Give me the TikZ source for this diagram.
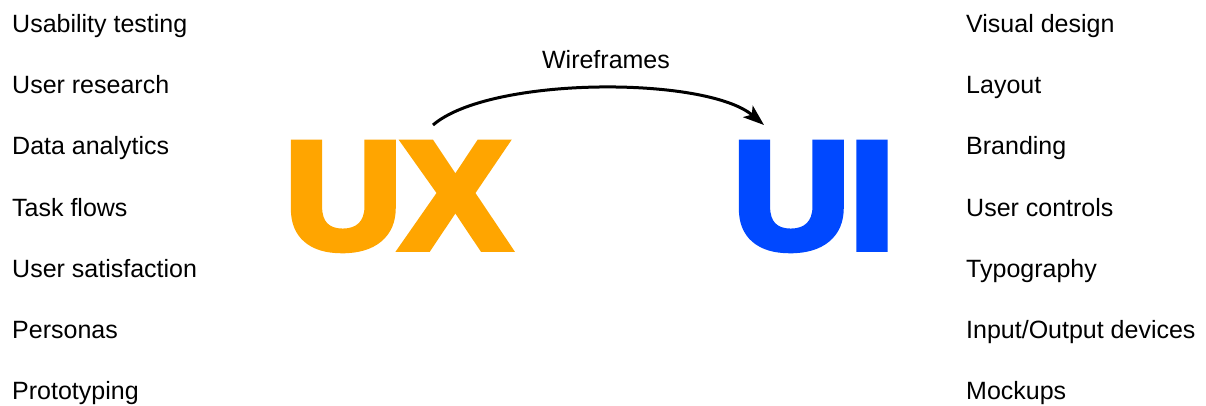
\documentclass[tikz,border=0pt]{standalone}
\usepackage{fontspec}
\setmainfont{Liberation Sans}
\newfontfamily\heavyface[FakeBold=5]{Liberation Sans Bold}
\usetikzlibrary{arrows.meta}
\definecolor{uxorange}{HTML}{FFA500}
\definecolor{uiblue}{HTML}{0048FF}
\tikzset{
  item/.style={anchor=base west, inner sep=0pt, font=\fontsize{25}{30}\selectfont},
  bigword/.style={anchor=base west, inner sep=0pt, xscale=1.06, transform shape,
    font=\heavyface\fontsize{152}{152}\selectfont},
  flow/.style={line width=3pt, -{Stealth[length=21pt,width=15pt,inset=5pt]}},
}
\begin{document}
\begin{tikzpicture}[x=1pt,y=-1pt]
  \useasboundingbox (0,0) rectangle (1206,406);
  % UX side list
  \foreach \t [count=\i from 0] in {Usability testing,User research,Data analytics,Task flows,User satisfaction,Personas,Prototyping}
    \node[item] (ux\i) at (12,{33+61*\i}) {\t};
  % UI side list
  \foreach \t [count=\i from 0] in {Visual design,Layout,Branding,User controls,Typography,Input/Output devices,Mockups}
    \node[item] (ui\i) at (966,{33+61*\i}) {\t};
  % the two big words
  \node[bigword, text=uxorange] (ux) at (285,248) {UX};
  \node[bigword, text=uiblue] (ui) at (733,248) {UI};
  % connecting arc
  \coordinate (from) at (433,125);
  \coordinate (to) at (764,125);
  \draw[flow] (from) .. controls (490,76) and (706,76) .. (to);
  \node[item, anchor=base] (wf) at (606,69) {Wireframes};
\end{tikzpicture}
\end{document}
